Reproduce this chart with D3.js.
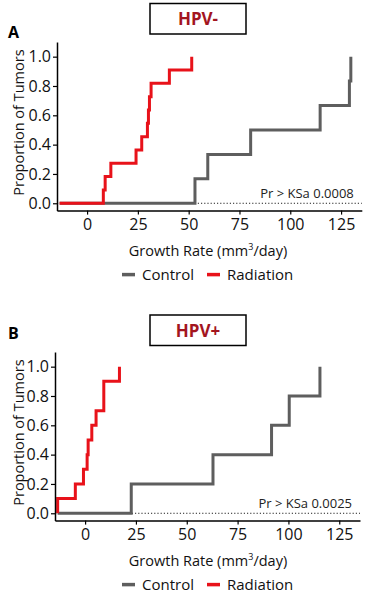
<!DOCTYPE html>
<html lang="en">
<head>
  <meta charset="UTF-8">
  <title>Growth rate ECDF</title>
  <script src="https://d3js.org/d3.v7.min.js"></script>
  <style>
    body { margin: 0; background: white; }
    text { font-family: "Open Sans", sans-serif; }
  </style>
</head>
<body>
  <svg id="chart" width="365" height="593"></svg>
  <script>
    // data (growth rate, mm3/day)
    const groups = ["Control", "Radiation"];
    const panelLabels = ["A", "B"];
    const panelTitles = ["HPV-", "HPV+"];
    const pValues = ["Pr > KSa 0.0008", "Pr > KSa 0.0025"];
    const controlA = [53.1, 59.4, 80.5, 114.7, 129.1, 129.8];
    const radiationA = [8.0, 8.9, 11.7, 24.1, 26.9, 29.7, 30.2, 30.7, 31.5, 40.5, 51.5];
    const controlB = [22.7, 62.9, 91.7, 100.4, 115.5];
    const radiationB = [-13.5, -4.8, -0.8, 1.0, 1.5, 3.3, 5.4, 9.2, 9.2, 16.9];
    const lineStart = -13.5;
    const xTicks = [0, 25, 50, 75, 100, 125];
    const yTicks = [0, 0.2, 0.4, 0.6, 0.8, 1.0];

    const colors = { Control: "#5e5e5e", Radiation: "#e8121a" };
    const svg = d3.select("#chart");

    function drawPanel(p) {
      const g = svg.append("g");
      const x = d3.scaleLinear().domain([-14.8, 135.2]).range([p.left, p.right]);
      const y = d3.scaleLinear().domain([-0.05, 1.1]).range([p.bottom, p.bottom - 146.6 * 1.15]);

      // panel label + boxed title
      g.append("text").attr("x", 8).attr("y", p.top - 4)
        .attr("font-size", 16).attr("font-weight", "bold").text(p.label);
      g.append("rect").attr("x", 150).attr("y", p.boxY).attr("width", 96).attr("height", 30.5)
        .attr("fill", "none").attr("stroke", "black").attr("stroke-width", 1.5);
      g.append("text").attr("x", 198).attr("y", p.boxY + 21.5).attr("text-anchor", "middle")
        .attr("font-size", 17).attr("font-weight", "bold").attr("fill", "#a3151f").text(p.title);

      // dotted reference line at 0
      g.append("line")
        .attr("x1", x(-14.8)).attr("x2", x(135.2)).attr("y1", y(0)).attr("y2", y(0))
        .attr("stroke", "#222").attr("stroke-width", 1).attr("stroke-dasharray", "1.2,2");

      g.append("text").attr("x", p.right - 8).attr("y", y(0) - 5).attr("text-anchor", "end")
        .attr("font-size", 13).attr("fill", "#222").text(p.pval);

      // ECDF step lines
      const line = d3.line().x(d => x(d[0])).y(d => y(d[1])).curve(d3.curveStepAfter);
      p.series.forEach(s => {
        const vals = s.values.slice().sort((a, b) => a - b);
        const pts = [[lineStart, 0]].concat(vals.map((v, i) => [v, (i + 1) / vals.length]));
        g.append("path").datum(pts)
          .attr("d", line)
          .attr("fill", "none")
          .attr("stroke", colors[s.name])
          .attr("stroke-width", 3);
      });

      // axes
      const xAxis = g.append("g").attr("transform", `translate(0,${p.bottom})`)
        .call(d3.axisBottom(x).tickValues(xTicks).tickSize(4).tickSizeOuter(0).tickPadding(4));
      const yAxis = g.append("g").attr("transform", `translate(${p.left},0)`)
        .call(d3.axisLeft(y).tickValues(yTicks).tickFormat(d3.format(".1f")).tickSize(4).tickSizeOuter(0).tickPadding(2));
      [xAxis, yAxis].forEach(a => {
        a.select(".domain").attr("stroke-width", 1.5);
        a.selectAll(".tick line").attr("stroke-width", 1.2);
        a.selectAll(".tick text").attr("font-size", 16).attr("fill", "#111")
          .attr("font-family", "Open Sans, sans-serif");
      });

      // axis titles
      const xt = g.append("text").attr("x", 208).attr("y", p.bottom + 45)
        .attr("text-anchor", "middle").attr("font-size", 14.5).attr("fill", "#111");
      xt.append("tspan").text("Growth Rate (mm");
      xt.append("tspan").attr("font-size", 9).attr("dy", -6).text("3");
      xt.append("tspan").attr("dy", 6).text("/day)");

      g.append("text")
        .attr("transform", `translate(24,${p.bottom - 88}) rotate(-90)`)
        .attr("text-anchor", "middle").attr("font-size", 14.5).attr("fill", "#111")
        .text("Proportion of Tumors");

      // legend
      const lg = g.append("g").attr("transform", `translate(0,${p.bottom + 64})`);
      const legendX = [122, 207];
      groups.forEach((name, i) => {
        lg.append("line").attr("x1", legendX[i]).attr("x2", legendX[i] + 13)
          .attr("y1", 0).attr("y2", 0)
          .attr("stroke", colors[name]).attr("stroke-width", 3.5);
        lg.append("text").attr("x", legendX[i] + 20).attr("y", 5.5)
          .attr("font-size", 15).attr("fill", "#111").text(name);
      });
    }

    drawPanel({
      label: panelLabels[0], title: panelTitles[0], pval: pValues[0],
      top: 42, boxY: 3.5, left: 57, right: 361.8, bottom: 210.6,
      series: [{ name: "Control", values: controlA }, { name: "Radiation", values: radiationA }]
    });
    drawPanel({
      label: panelLabels[1], title: panelTitles[1], pval: pValues[1],
      top: 343, boxY: 315, left: 55, right: 360, bottom: 520.6,
      series: [{ name: "Control", values: controlB }, { name: "Radiation", values: radiationB }]
    });
  </script>
</body>
</html>
